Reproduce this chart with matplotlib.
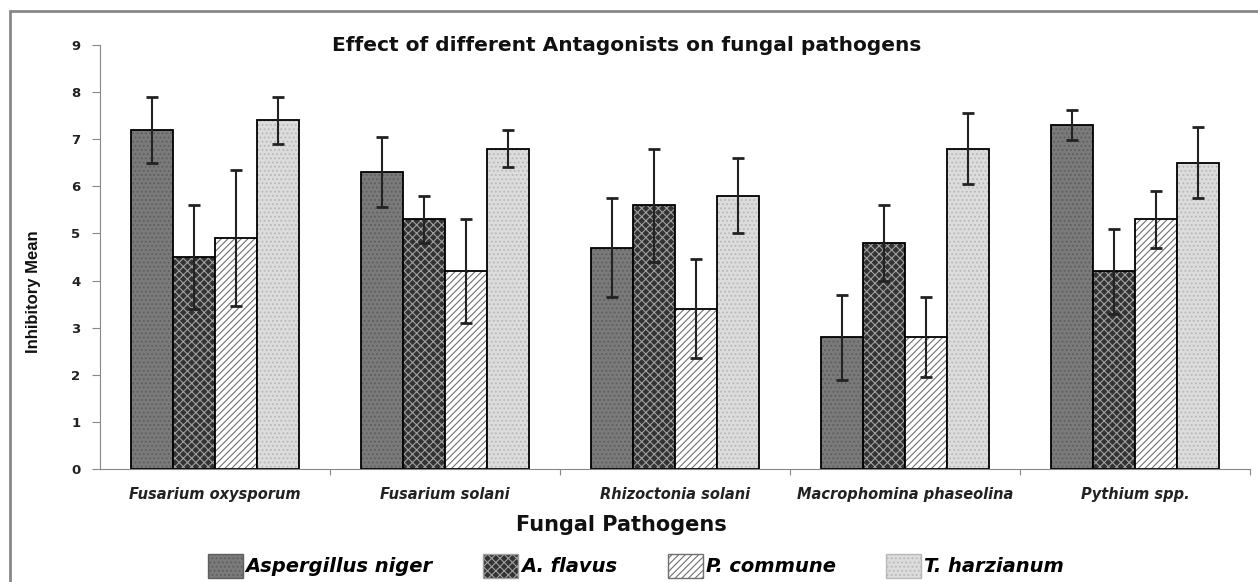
import matplotlib.pyplot as plt
import matplotlib.patches as mpatches
import numpy as np

plt.rcParams['font.family'] = ['DejaVu Sans']
plt.rcParams['hatch.linewidth'] = 0.8

pathogens = ['Fusarium oxysporum', 'Fusarium solani', 'Rhizoctonia solani',
             'Macrophomina phaseolina', 'Pythium spp.']
antagonists = ['Aspergillus niger', 'A. flavus', 'P. commune', 'T. harzianum']

niger = [7.2, 6.3, 4.7, 2.8, 7.3]
flavus = [4.5, 5.3, 5.6, 4.8, 4.2]
commune = [4.9, 4.2, 3.4, 2.8, 5.3]
harzianum = [7.4, 6.8, 5.8, 6.8, 6.5]

niger_err = [0.7, 0.75, 1.05, 0.9, 0.32]
flavus_err = [1.1, 0.5, 1.2, 0.8, 0.9]
commune_err = [1.45, 1.1, 1.05, 0.85, 0.6]
harzianum_err = [0.5, 0.4, 0.8, 0.75, 0.75]

values = [niger, flavus, commune, harzianum]
errors = [niger_err, flavus_err, commune_err, harzianum_err]
faces = ['#7a7a7a', '#333333', '#ffffff', '#dcdcdc']
hatch_cols = ['#5e5e5e', '#a0a0a0', '#707070', '#b8b8b8']
hatches = ['....', 'xxxx', '/////', '....']

fig = plt.figure(figsize=(12.58, 5.82), dpi=100)
ax = fig.add_axes([0.0795, 0.194, 0.914, 0.729])

x = np.arange(len(pathogens))
width = 0.183
handles = []
for i in range(4):
    pos = x + (i - 1.5) * width
    ax.bar(pos, values[i], width, color=faces[i], hatch=hatches[i],
           edgecolor=hatch_cols[i], linewidth=0)
    ax.bar(pos, values[i], width, fill=False, edgecolor='black', linewidth=1.3)
    ax.errorbar(pos, values[i], yerr=errors[i], fmt='none', ecolor='#222222',
                elinewidth=1.5, capsize=4, capthick=2)
    handles.append(mpatches.Patch(facecolor=faces[i], hatch=hatches[i],
                                  edgecolor=hatch_cols[i]))

ax.set_xlim(-0.5, 4.5)
ax.set_ylim(0, 9)
ax.set_yticks(range(10))
ax.set_xticks(x + 0.5)
ax.set_xticklabels([])
ax.tick_params(axis='x', length=4, color='#888888')
ax.tick_params(axis='y', length=6, color='#888888', labelsize=9.5, pad=8)
for lab in ax.get_yticklabels():
    lab.set_fontweight('bold')
    lab.set_color('#222222')
for xi, name in zip(x, pathogens):
    ax.text(xi, -0.059, name, ha='center', va='center', fontsize=10.5,
            fontstyle='italic', fontweight='bold', color='#222222',
            transform=ax.get_xaxis_transform())
ax.spines['top'].set_visible(False)
ax.spines['right'].set_visible(False)
ax.spines['left'].set_color('#888888')
ax.spines['bottom'].set_color('#888888')

fig.text(0.027, 1 - 292 / 582, 'Inhibitory Mean', rotation=90, ha='center',
         va='center', fontsize=12, fontweight='bold', family='Liberation Sans',
         color='#111111')
fig.text(0.494, 0.098, 'Fungal Pathogens', ha='center', va='center',
         fontsize=15, fontweight='bold', color='#111111')
fig.text(0.498, 0.921, 'Effect of different Antagonists on fungal pathogens',
         ha='center', va='center', fontsize=14.5, fontweight='bold',
         color='#111111')

leg = fig.legend(handles, antagonists, loc='center', bbox_to_anchor=(0.5056, 0.0275),
                 ncol=4, frameon=False, handlelength=1.8, handleheight=1.55,
                 columnspacing=2.6, handletextpad=0.15, borderpad=0,
                 prop={'size': 14, 'weight': 'bold', 'style': 'italic'})

# grey frame around the whole chart
fig.patches.append(mpatches.Rectangle((10 / 1258, -0.02), 1.1, 1 - 11 / 582 + 0.02,
                                      transform=fig.transFigure, fill=False,
                                      edgecolor='#888888', linewidth=2))

fig.savefig('out.png', dpi=100)
